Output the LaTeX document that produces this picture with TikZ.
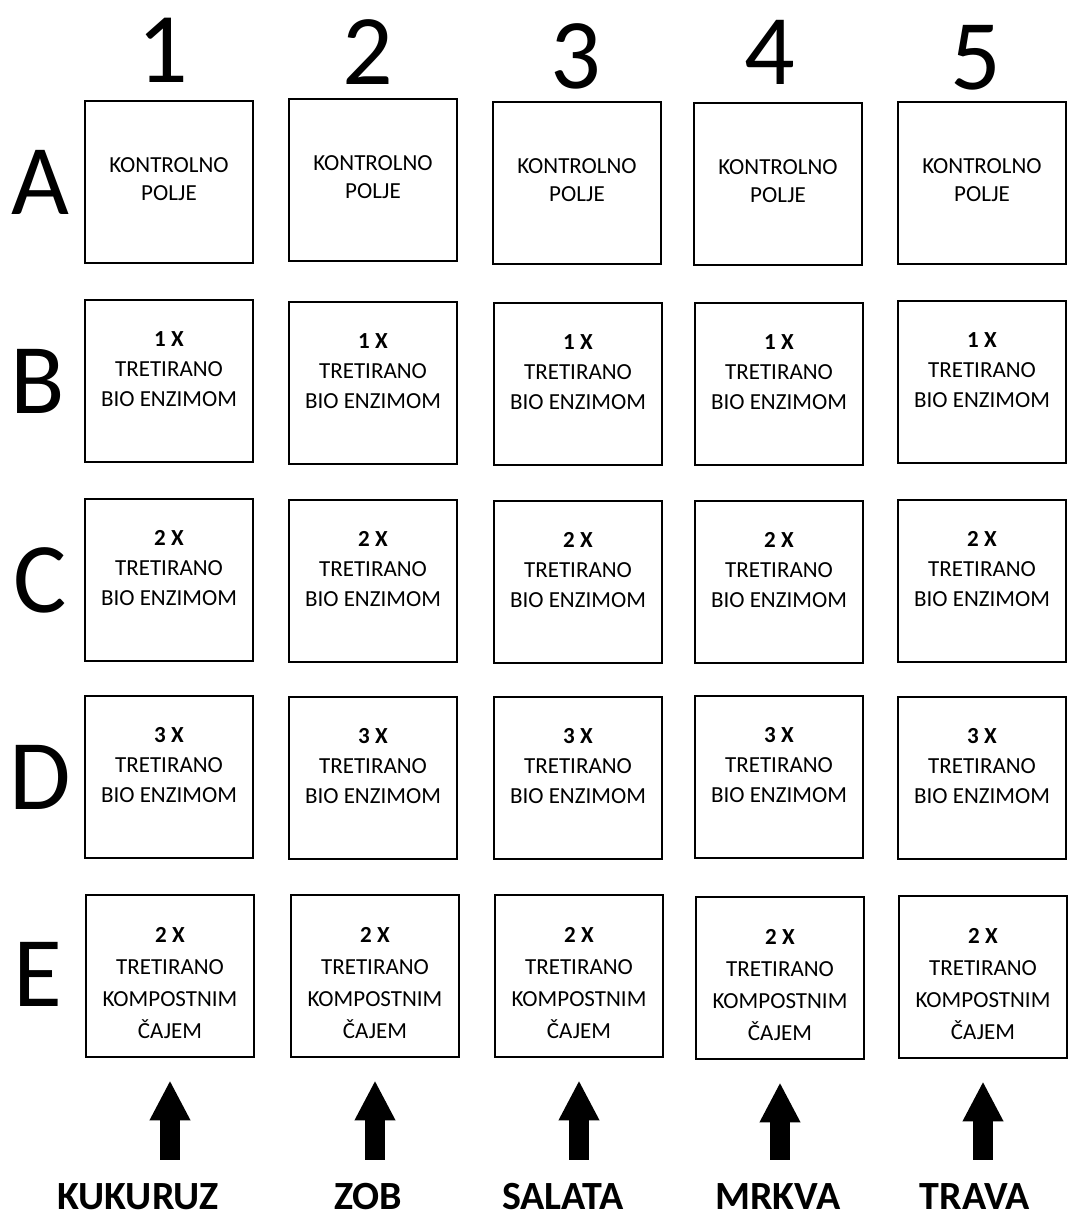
\documentclass[tikz,border=0pt]{standalone}
\usepackage{fontspec}
\setmainfont{Carlito}
\usepackage{tikz}
\usetikzlibrary{arrows.meta}
\tikzstyle{plot} = [draw=black, line width=2.8pt, minimum width=168pt, minimum height=162pt, inner sep=0pt, align=center, font=\fontsize{23}{30}\selectfont]
\tikzstyle{ctrl} = [plot, font=\fontsize{23}{28}\selectfont]
\tikzstyle{comp} = [plot, font=\fontsize{23}{32}\selectfont]
\tikzstyle{big} = [font=\fontsize{100}{100}\selectfont, inner sep=0pt]
\tikzstyle{crop} = [font=\fontsize{40}{40}\selectfont\bfseries, inner sep=0pt]
\tikzstyle{up} = [-{Triangle[width=38pt,length=40pt]}, line width=20pt, shorten <=24pt, shorten >=22pt]
\newcommand{\bio}[1]{\textbf{#1 X}\\TRETIRANO\\BIO ENZIMOM\\[-6pt]}
\newcommand{\kom}{\textbf{2 X}\\TRETIRANO\\KOMPOSTNIM\\ČAJEM\\[-46pt]}

\begin{document}
\begin{tikzpicture}[x=1pt,y=-1pt]
\useasboundingbox (0,0) rectangle (1069,1218);
\node[big] (n1) at (163,50) {1};
\node[big] (n2) at (368,52) {2};
\node[big] (n3) at (576,56) {3};
\node[big] (n4) at (770,52) {4};
\node[big] (n5) at (976,58) {5};
\node[big] (ra) at (40,182) {A};
\node[big] (rb) at (38,381) {B};
\node[big] (rc) at (40,580) {C};
\node[big] (rd) at (40,777) {D};
\node[big] (re) at (38,974) {E};
\node[ctrl] (a1) at (169,182) {KONTROLNO\\POLJE\\[-22pt]};
\node[ctrl] (a2) at (373,180) {KONTROLNO\\POLJE\\[-22pt]};
\node[ctrl] (a3) at (577,183) {KONTROLNO\\POLJE\\[-22pt]};
\node[ctrl] (a4) at (778,184) {KONTROLNO\\POLJE\\[-22pt]};
\node[ctrl] (a5) at (982,183) {KONTROLNO\\POLJE\\[-22pt]};
\node[plot] (b1) at (169,381) {\bio{1}};
\node[plot] (b2) at (373,383) {\bio{1}};
\node[plot] (b3) at (578,384) {\bio{1}};
\node[plot] (b4) at (779,384) {\bio{1}};
\node[plot] (b5) at (982,382) {\bio{1}};
\node[plot] (c1) at (169,580) {\bio{2}};
\node[plot] (c2) at (373,581) {\bio{2}};
\node[plot] (c3) at (578,582) {\bio{2}};
\node[plot] (c4) at (779,582) {\bio{2}};
\node[plot] (c5) at (982,581) {\bio{2}};
\node[plot] (d1) at (169,777) {\bio{3}};
\node[plot] (d2) at (373,778) {\bio{3}};
\node[plot] (d3) at (578,778) {\bio{3}};
\node[plot] (d4) at (779,777) {\bio{3}};
\node[plot] (d5) at (982,778) {\bio{3}};
\node[comp] (e1) at (170,976) {\kom};
\node[comp] (e2) at (375,976) {\kom};
\node[comp] (e3) at (579,976) {\kom};
\node[comp] (e4) at (780,978) {\kom};
\node[comp] (e5) at (983,977) {\kom};
\node[crop] (k1) at (138,1197) {KUKURUZ};
\node[crop] (k2) at (368,1197) {ZOB};
\node[crop] (k3) at (563,1197) {SALATA};
\node[crop] (k4) at (778,1197) {MRKVA};
\node[crop] (k5) at (975,1197) {TRAVA};
\draw[up] (k1.north -| e1.south) -- (e1.south);
\draw[up] (k2.north -| e2.south) -- (e2.south);
\draw[up] (k3.north -| e3.south) -- (e3.south);
\draw[up] (k4.north -| e4.south) -- (e4.south);
\draw[up] (k5.north -| e5.south) -- (e5.south);
\end{tikzpicture}
\end{document}
